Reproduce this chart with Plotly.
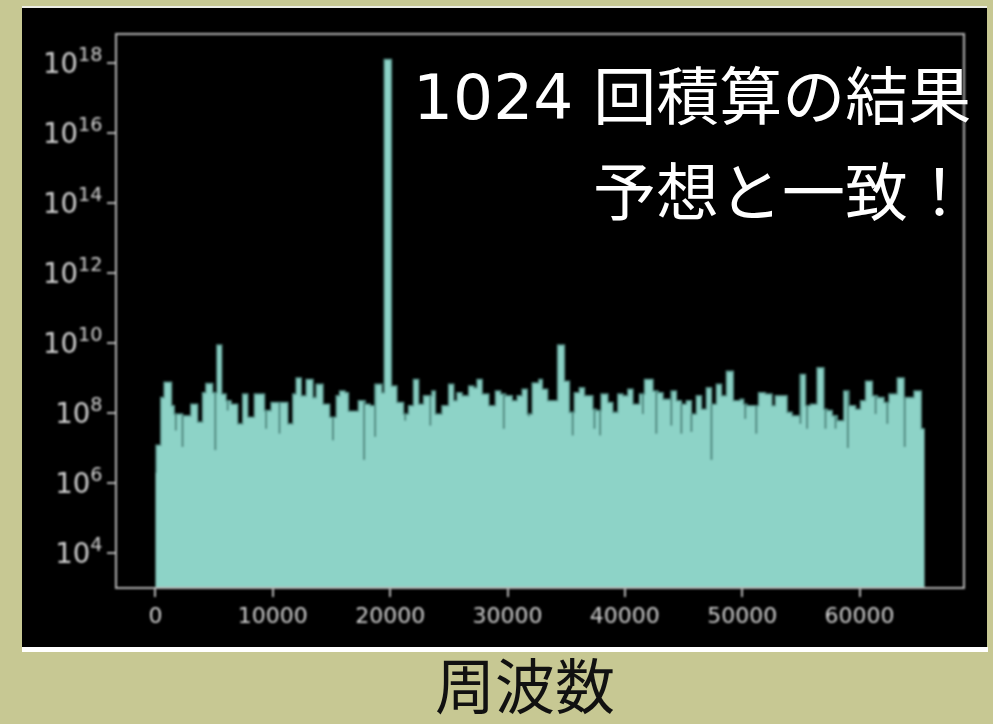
import numpy as np
import plotly.graph_objects as go

# Power spectrum after 1024 accumulations: step levels (start frequency in Hz, log10 power)
freq_hz = [
    0, 60, 456, 741, 1367, 1595, 2307, 3020, 3590, 4017,
    4302, 4872, 5242, 5641, 6011, 6439, 7008, 7436, 7863, 8433,
    9288, 9857, 11282, 11709, 11994, 12421, 12849, 13418, 13703, 14273,
    14843, 15413, 15698, 16154, 16439, 17294, 17863, 18291, 18718, 19288,
    19500, 20100, 20570, 21140, 21567, 21994, 22422, 22849, 23561, 23846,
    24416, 24986, 25413, 25698, 26126, 26695, 27123, 27408, 27835, 28405,
    28975, 29402, 29829, 30399, 30826, 31254, 31681, 32108, 32678, 32963,
    33418, 34273, 34843, 35270, 35698, 36125, 36552, 37265, 37549, 37976,
    38546, 38974, 39401, 39829, 40256, 40683, 41253, 41680, 42393, 42820,
    43247, 43959, 44387, 44814, 45242, 45669, 46096, 46524, 46951, 47378,
    47806, 48233, 48660, 49230, 49829, 50114, 50399, 51396, 51966, 52536,
    52821, 53818, 54245, 54957, 55385, 55812, 56382, 56952, 57237, 57664,
    58091, 58661, 59088, 59658, 60085, 60513, 61083, 61510, 62080, 62507,
    63219, 63789, 64643, 65250,
]
log_power = [
    6.30, 7.08, 8.44, 8.88, 8.21, 7.97, 7.92, 8.25, 7.74, 8.58,
    8.84, 8.58, 9.94, 8.54, 8.35, 8.25, 7.69, 8.54, 7.88, 8.54,
    8.07, 8.30, 7.69, 8.54, 9.00, 8.49, 8.96, 8.44, 8.82, 8.25,
    7.88, 8.49, 8.63, 8.58, 8.05, 8.35, 8.25, 8.21, 8.82, 8.58,
    18.10, 8.77, 8.30, 7.97, 8.21, 8.96, 8.25, 8.49, 8.63, 7.97,
    8.21, 8.82, 8.35, 8.58, 8.49, 8.77, 8.72, 8.96, 8.54, 8.21,
    8.63, 8.54, 8.49, 8.35, 8.49, 8.68, 7.97, 8.86, 8.96, 8.68,
    8.35, 9.94, 8.91, 8.02, 8.58, 8.72, 8.49, 8.11, 8.07, 8.54,
    8.30, 8.02, 8.54, 8.49, 8.68, 8.25, 8.54, 8.96, 8.63, 8.58,
    8.39, 8.63, 8.35, 8.25, 8.35, 7.97, 8.49, 8.11, 8.72, 8.25,
    8.82, 8.49, 9.19, 8.35, 8.39, 8.25, 8.21, 8.58, 8.54, 8.21,
    8.49, 8.02, 7.92, 9.10, 8.21, 8.25, 9.29, 8.11, 8.07, 7.92,
    7.78, 8.63, 8.21, 8.11, 8.35, 8.91, 8.49, 8.44, 8.30, 8.54,
    9.00, 8.44, 8.63, 7.55,
]
freq_end = 65536

# Narrow dips below the level (frequency in Hz, log10 power at the bottom of the dip)
dip_freq = [1737, 2307, 5099, 6153, 9430, 10570, 15128, 17778, 18718, 21282,
            23419, 29687, 31824, 35555, 37407, 37891, 41538, 42677, 43959, 44814,
            45669, 47378, 50256, 51197, 54957, 55527, 57094, 57949, 59003, 61367,
            62365, 63846]
dip_log = [7.50, 7.03, 6.94, 8.07, 7.55, 7.41, 7.22, 6.66, 7.32, 7.78,
           7.64, 7.55, 7.90, 7.36, 7.55, 7.36, 7.97, 7.41, 7.64, 7.41,
           7.46, 6.66, 7.83, 7.41, 7.69, 7.55, 7.55, 7.55, 7.00, 7.97,
           7.69, 7.03]

x_ticks = [0, 10000, 20000, 30000, 40000, 50000, 60000]

assert len(freq_hz) == len(log_power)
assert len(dip_freq) == len(dip_log)

power = [10 ** v for v in log_power]
x_env = freq_hz + [freq_end]
y_env = power + [power[-1]]

# vertical segments for the dips, from the local level down to the dip value
dx, dy = [], []
freq_arr = np.array(freq_hz)
for f, lv in zip(dip_freq, dip_log):
    i = int(np.searchsorted(freq_arr, f, side="right") - 1)
    top = power[i]
    low = 10 ** lv
    if low < top:
        dx += [f, f, None]
        dy += [top, low, None]

FILL = "#8dd3c7"
EDGE = "#5a948b"
DIP = "#4c857c"
AXC = "#b4b4b4"
TXT = "#d2d2d2"
BG = "#c7c893"

fig = go.Figure()
fig.add_trace(go.Scatter(
    x=x_env, y=y_env, mode="lines",
    line=dict(shape="hv", color=EDGE, width=1.6),
    fill="tozeroy", fillcolor=FILL, hoverinfo="skip", showlegend=False,
))
fig.add_trace(go.Scatter(
    x=dx, y=dy, mode="lines",
    line=dict(color=DIP, width=2),
    hoverinfo="skip", showlegend=False,
))

# plot area in page pixels
W, H = 993, 724
L, R, T, B = 117, 963, 35, 587
pw, ph = R - L, B - T


def px(x):
    return (x - L) / pw


def py(y):
    return (B - y) / ph


shapes = [
    dict(type="rect", xref="paper", yref="paper", layer="below",
         x0=px(22), x1=px(987), y0=py(647), y1=py(8),
         fillcolor="black", line=dict(width=0)),
    dict(type="rect", xref="paper", yref="paper", layer="below",
         x0=px(22), x1=px(988), y0=py(652), y1=py(647),
         fillcolor="white", line=dict(width=0)),
    dict(type="rect", xref="paper", yref="paper", layer="below",
         x0=px(22), x1=px(987), y0=py(8), y1=py(6),
         fillcolor="#ecece4", line=dict(width=0)),
]

jp = "Noto Sans CJK JP"
annotations = [
    dict(text='<span style="font-family:DejaVu Sans">1024 </span>回積算の結果',
         xref="paper", yref="paper",
         x=px(973), y=py(91), xanchor="right", yanchor="middle", showarrow=False,
         font=dict(family=jp, size=63, color="white")),
    dict(text="予想と一致！", xref="paper", yref="paper",
         x=px(973), y=py(187), xanchor="right", yanchor="middle", showarrow=False,
         font=dict(family=jp, size=63, color="white")),
    dict(text="周波数", xref="paper", yref="paper",
         x=px(525), y=py(683), xanchor="center", yanchor="middle", showarrow=False,
         borderpad=0,
         font=dict(family=jp, size=60, color="#111111")),
]

fig.update_layout(
    width=W, height=H,
    margin=dict(l=L, r=W - R, t=T, b=H - B, pad=0),
    paper_bgcolor=BG, plot_bgcolor="black",
    shapes=shapes, annotations=annotations,
    showlegend=False,
    xaxis=dict(
        range=[-3277, 68813], tickvals=x_ticks, ticktext=[str(v) for v in x_ticks],
        ticks="outside", ticklen=8, tickwidth=1.5, tickcolor=AXC,
        showline=True, mirror=True, linecolor=AXC, linewidth=2,
        showgrid=False, zeroline=False,
        tickfont=dict(family="DejaVu Sans", size=22, color=TXT),
    ),
    yaxis=dict(
        type="log", range=[3.03, 18.8], dtick=2,
        exponentformat="power", showexponent="all",
        ticks="outside", ticklen=8, tickwidth=1.5, tickcolor=AXC,
        showline=True, mirror=True, linecolor=AXC, linewidth=2,
        showgrid=False, zeroline=False,
        tickfont=dict(family="DejaVu Sans", size=22, color=TXT),
    ),
)

post = """
(function(){
  var gd = document.getElementById('{plot_id}');
  var svg = gd && gd.querySelector('svg.main-svg');
  if(!svg) return;
  var ns = 'http://www.w3.org/2000/svg';
  var defs = svg.querySelector('defs');
  if(!defs){ defs = document.createElementNS(ns, 'defs'); svg.insertBefore(defs, svg.firstChild); }
  var f = document.createElementNS(ns, 'filter');
  f.setAttribute('id', 'soften');
  f.setAttribute('x', '-3%'); f.setAttribute('y', '-3%');
  f.setAttribute('width', '106%'); f.setAttribute('height', '106%');
  var b = document.createElementNS(ns, 'feGaussianBlur');
  b.setAttribute('stdDeviation', '0.9');
  f.appendChild(b); defs.appendChild(f);
  var layer = svg.querySelector('.cartesianlayer');
  if(layer) layer.setAttribute('filter', 'url(#soften)');
})();
"""

fig.write_html("out.html", post_script=post)
